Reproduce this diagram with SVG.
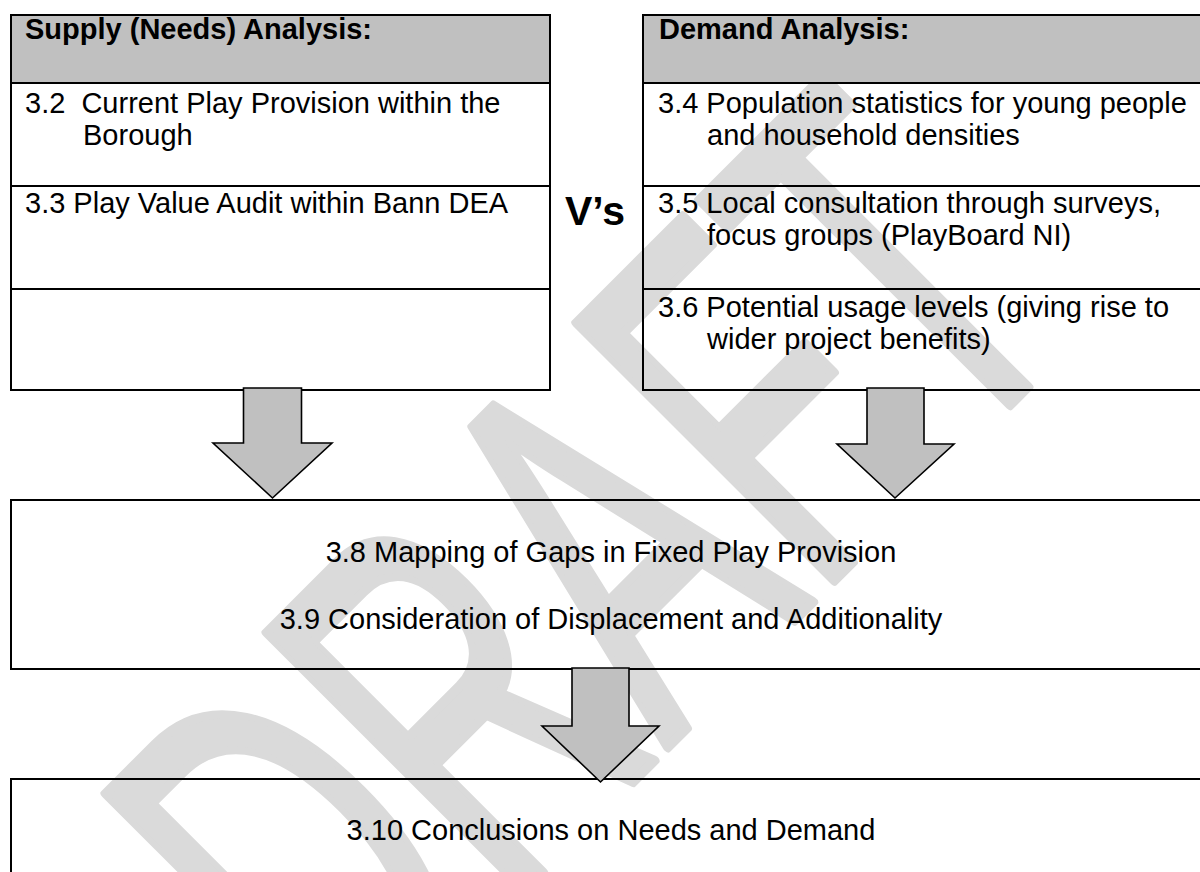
<svg xmlns="http://www.w3.org/2000/svg" width="1200" height="872" viewBox="0 0 1200 872">
<style>
.t{font-family:"Liberation Sans",Arial,sans-serif;font-size:29px;fill:#000}
.b{font-weight:bold}
.box{fill:none;stroke:#000;stroke-width:2}
.hdr{fill:#C0C0C0;stroke:none}
.arr{fill:#C0C0C0;stroke:#000;stroke-width:1.6;stroke-linejoin:miter}
.wm{font-family:"Liberation Sans",Arial,sans-serif;font-size:530px;fill:#DADADA;stroke:#DADADA;stroke-width:8;stroke-linejoin:round;vector-effect:non-scaling-stroke}
.c{text-anchor:middle}
</style>
<rect width="1200" height="872" fill="#fff"/>
<g id="watermark">
<text class="wm" transform="translate(344,1071) rotate(-45) scale(0.595,1)">DRAFT</text>
</g>
<g id="supply">
<rect class="hdr" x="11" y="15" width="539" height="68"/>
<rect class="box" x="11" y="15" width="539" height="375"/>
<line class="box" x1="11" y1="83" x2="550" y2="83"/>
<line class="box" x1="11" y1="186" x2="550" y2="186"/>
<line class="box" x1="11" y1="289" x2="550" y2="289"/>
<text class="t b" x="25" y="39">Supply (Needs) Analysis:</text>
<text class="t" x="25" y="113">3.2&#160; Current Play Provision within the</text>
<text class="t" x="83" y="145">Borough</text>
<text class="t" x="25" y="213">3.3 Play Value Audit within Bann DEA</text>
</g>
<g id="versus">
<text class="t b" x="565" y="225" style="font-size:41px">V’s</text>
</g>
<g id="demand">
<rect class="hdr" x="643" y="15" width="567" height="68"/>
<rect class="box" x="643" y="15" width="567" height="375"/>
<line class="box" x1="643" y1="83" x2="1210" y2="83"/>
<line class="box" x1="643" y1="186" x2="1210" y2="186"/>
<line class="box" x1="643" y1="289" x2="1210" y2="289"/>
<text class="t b" x="659" y="39">Demand Analysis:</text>
<text class="t" x="658" y="113">3.4 Population statistics for young people</text>
<text class="t" x="707" y="145">and household densities</text>
<text class="t" x="658" y="213">3.5 Local consultation through surveys,</text>
<text class="t" x="707" y="245">focus groups (PlayBoard NI)</text>
<text class="t" x="658" y="317">3.6 Potential usage levels (giving rise to</text>
<text class="t" x="707" y="349">wider project benefits)</text>
</g>
<g id="mapping">
<rect class="box" x="11" y="500" width="1199" height="169"/>
<text class="t c" x="611" y="562">3.8 Mapping of Gaps in Fixed Play Provision</text>
<text class="t c" x="611" y="629">3.9 Consideration of Displacement and Additionality</text>
</g>
<g id="conclusions">
<rect class="box" x="11" y="779" width="1199" height="130"/>
<text class="t c" x="611" y="840">3.10 Conclusions on Needs and Demand</text>
</g>
<g id="connectors">
<polygon class="arr" points="243.5,388 301.5,388 301.5,443 332,443 272.5,498 213,443 243.5,443"/>
<polygon class="arr" points="867,388 924,388 924,444 954,444 895,498 837,444 867,444"/>
<polygon class="arr" points="572,668 629,668 629,726 659,726 600.5,782 542,726 572,726"/>
</g>
</svg>
